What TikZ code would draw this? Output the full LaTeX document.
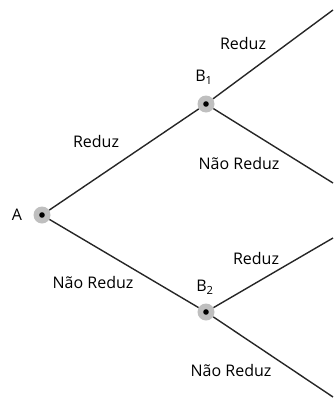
\documentclass[tikz,border=0pt]{standalone}
\usepackage{fontspec}
\setmainfont{Open Sans}
\begin{document}
\begin{tikzpicture}[x=1pt,y=-1pt,
  branch/.style={line width=1.4pt, draw=black!85},
  chance/.style={circle, fill=black!25, minimum size=17pt, inner sep=0pt,
    path picture={\fill[black] (path picture bounding box.center) circle (2.8pt);}},
  lbl/.style={font=\fontsize{16}{18}\selectfont, text=black, inner sep=0pt}]
\useasboundingbox (0,0) rectangle (333,407);
% outcome ends at the right border
\coordinate (e1) at (333,10);
\coordinate (e2) at (333,183);
\coordinate (e3) at (333,238);
\coordinate (e4) at (333,397);
% decision points
\node[chance] (A) at (42,215) {};
\node[chance] (B1) at (206,104) {};
\node[chance] (B2) at (206,312) {};
% branches
\draw[branch] (A) -- (B1);
\draw[branch] (A) -- (B2);
\draw[branch] (B1) -- (e1);
\draw[branch] (B1) -- (e2);
\draw[branch] (B2) -- (e3);
\draw[branch] (B2) -- (e4);
% labels
\node[lbl] (tA) at (17,215) {A};
\node[lbl] (tB1) at (204,77) {B\textsubscript{1}};
\node[lbl] (tB2) at (205,287) {B\textsubscript{2}};
\node[lbl] (r1) at (243,43) {Reduz};
\node[lbl] (r0) at (96,141) {Reduz};
\node[lbl] (n1) at (239,163) {Não Reduz};
\node[lbl] (n0) at (93,282) {Não Reduz};
\node[lbl] (r2) at (256,258) {Reduz};
\node[lbl] (n2) at (231,370) {Não Reduz};
\end{tikzpicture}
\end{document}
